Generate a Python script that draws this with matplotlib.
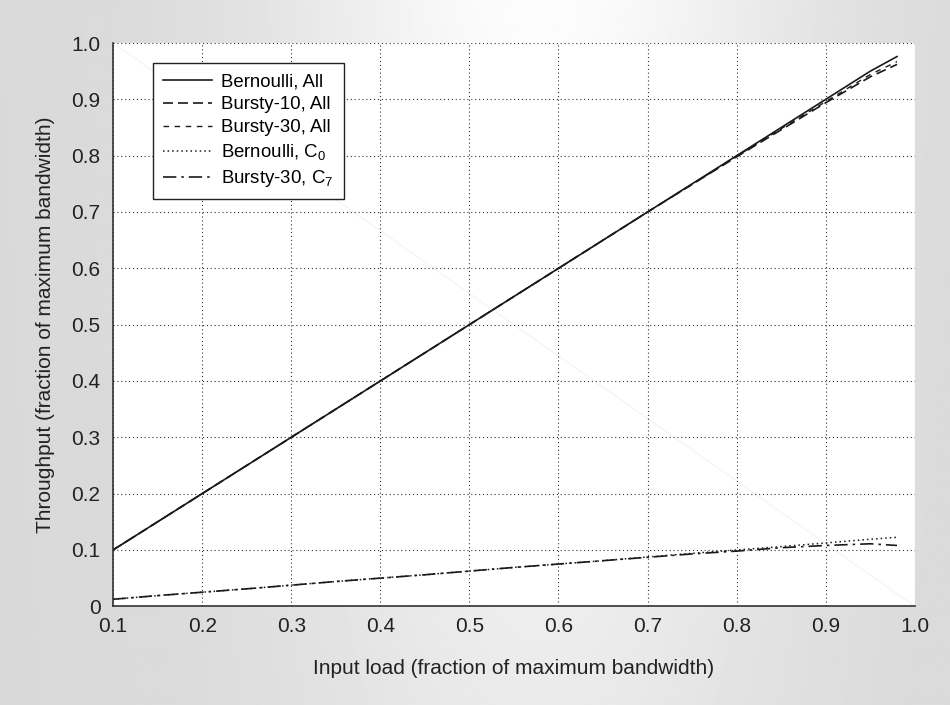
import numpy as np
import matplotlib
matplotlib.use("Agg")
import matplotlib.pyplot as plt

plt.rcParams['font.family'] = ['Liberation Sans', 'DejaVu Sans']
plt.rcParams['mathtext.fontset'] = 'custom'
plt.rcParams['mathtext.rm'] = 'Liberation Sans'
plt.rcParams['mathtext.default'] = 'regular'

# input load (fraction of max bandwidth)
load = [0.1, 0.15, 0.2, 0.25, 0.3, 0.35, 0.4, 0.45, 0.5, 0.55, 0.6,
        0.65, 0.7, 0.75, 0.8, 0.85, 0.9, 0.95, 0.98]

# throughput curves
bern_all = [0.1, 0.15, 0.2, 0.25, 0.3, 0.35, 0.4, 0.45, 0.5, 0.55, 0.6,
            0.65, 0.7, 0.75, 0.8, 0.85, 0.9, 0.95, 0.976]
bursty10_all = [0.1, 0.15, 0.2, 0.25, 0.3, 0.35, 0.4, 0.45, 0.5, 0.55, 0.6,
                0.65, 0.7, 0.749, 0.798, 0.846, 0.894, 0.94, 0.962]
bursty30_all = [0.1, 0.15, 0.2, 0.25, 0.3, 0.35, 0.4, 0.45, 0.5, 0.55, 0.6,
                0.65, 0.7, 0.749, 0.799, 0.848, 0.896, 0.944, 0.967]
bern_c0 = [0.0125, 0.019, 0.025, 0.031, 0.0375, 0.044, 0.05, 0.056, 0.0625,
           0.069, 0.075, 0.081, 0.0875, 0.094, 0.1, 0.106, 0.1125, 0.119, 0.1225]
bursty30_c7 = [0.0125, 0.019, 0.025, 0.031, 0.0375, 0.044, 0.05, 0.056, 0.0625,
               0.069, 0.075, 0.081, 0.087, 0.093, 0.098, 0.104, 0.108, 0.111, 0.108]

fig = plt.figure(figsize=(9.5, 7.05), dpi=100)

# gray background with a lighter band near the top middle
bg = fig.add_axes([0, 0, 1, 1], zorder=-10)
gx = np.linspace(0, 1, 400)
gy = np.linspace(0, 1, 300)
X, Y = np.meshgrid(gx, gy)
shade = 0.85 + 0.14 * np.exp(-((X - 0.57) / 0.27) ** 2) * (0.5 + 0.5 * Y)
shade = np.clip(shade, 0, 1)
bg.imshow(shade, cmap='gray', vmin=0, vmax=1, origin='lower',
          extent=[0, 1, 0, 1], aspect='auto')
bg.axis('off')

ax = fig.add_axes([0.119, 0.140, 0.844, 0.799])
ax.set_facecolor('white')

# faint diagonal seen in the original
ax.plot([0.1, 1.0], [1.0, 0.0], color='#f3f3f3', lw=0.8, zorder=1)

ax.plot(load, bern_all, color='#1a1a1a', lw=1.2, ls='-', label='Bernoulli, All')
ax.plot(load, bursty10_all, color='#1a1a1a', lw=1.2, ls=(0, (6, 3)), label='Bursty-10, All')
ax.plot(load, bursty30_all, color='#1a1a1a', lw=1.0, ls=(0, (4, 4)), label='Bursty-30, All')
ax.plot(load, bern_c0, color='#1a1a1a', lw=1.1, ls=(0, (1, 2)), label='Bernoulli, C$_0$')
ax.plot(load, bursty30_c7, color='#1a1a1a', lw=1.2, ls=(0, (8, 3, 1.5, 3)), label='Bursty-30, C$_7$')

ax.set_xlim(0.1, 1.0)
ax.set_ylim(0, 1.0)
ax.set_xticks(np.arange(0.1, 1.01, 0.1))
ax.set_yticks(np.arange(0, 1.01, 0.1))
ax.set_xticklabels(['0.1', '0.2', '0.3', '0.4', '0.5', '0.6', '0.7', '0.8', '0.9', '1.0'])
ax.set_yticklabels(['0', '0.1', '0.2', '0.3', '0.4', '0.5', '0.6', '0.7', '0.8', '0.9', '1.0'])
ax.tick_params(length=0, labelsize=15, colors='#222222')
ax.tick_params(axis='x', pad=8)
ax.tick_params(axis='y', pad=9)
ax.grid(True, color='#333333', ls=(0, (1, 2.5)), lw=0.8)

for s in ['top', 'right']:
    ax.spines[s].set_visible(False)
for s in ['left', 'bottom']:
    ax.spines[s].set_color('#333333')
    ax.spines[s].set_linewidth(1.2)

ax.set_xlabel('Input load (fraction of maximum bandwidth)', fontsize=15, color='#222222', labelpad=16)
ax.set_ylabel('Throughput (fraction of maximum bandwidth)', fontsize=15, color='#222222', labelpad=12)

leg = ax.legend(loc='upper left', bbox_to_anchor=(0.050, 0.9645), borderaxespad=0,
                fontsize=13.4, frameon=True, fancybox=False, edgecolor='#222222',
                handlelength=2.6, handletextpad=0.5, labelspacing=0.32, borderpad=0.55)
leg.get_frame().set_linewidth(1.0)
leg.get_frame().set_alpha(1)

fig.savefig('out.png', dpi=100)
